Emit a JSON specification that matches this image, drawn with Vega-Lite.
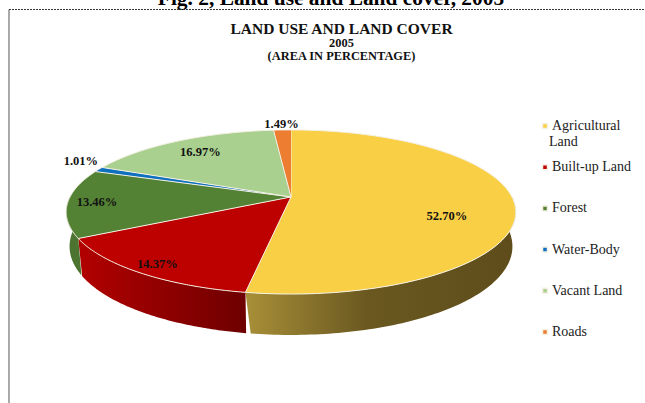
{
  "$schema": "https://vega.github.io/schema/vega-lite/v6.json",
  "width": 645,
  "height": 403,
  "padding": 0,
  "autosize": {"type": "none"},
  "background": "white",
  "view": {"stroke": null},
  "title": {
    "text": "LAND USE AND LAND COVER",
    "subtitle": ["2005", "(AREA IN PERCENTAGE)"],
    "anchor": "middle",
    "dx": 19,
    "dy": 78,
    "font": "Liberation Serif",
    "fontSize": 15.5,
    "fontWeight": "bold",
    "color": "#111111",
    "subtitleFont": "Liberation Serif",
    "subtitleFontSize": 12.4,
    "subtitleFontWeight": "bold",
    "subtitleColor": "#111111",
    "subtitleLineHeight": 13,
    "subtitlePadding": -1
  },
  "data": {
    "values": [
      {"slice": "Agricultural Land", "share": 52.70, "rank": 1},
      {"slice": "Built-up Land", "share": 14.37, "rank": 2},
      {"slice": "Forest", "share": 13.46, "rank": 3},
      {"slice": "Water-Body", "share": 1.01, "rank": 4},
      {"slice": "Vacant Land", "share": 16.97, "rank": 5},
      {"slice": "Roads", "share": 1.49, "rank": 6}
    ]
  },
  "layer": [
    {
      "transform": [
        {"window": [{"op": "sum", "field": "share", "as": "end"}], "sort": [{"field": "rank"}]},
        {"calculate": "datum.end - datum.share", "as": "start"}
      ],
      "layer": [
        {
          "transform": [
            {"filter": "datum.end > 25 && datum.start < 75"},
            {"calculate": "max(datum.start, 25)", "as": "lo"},
            {"calculate": "min(datum.end, 75)", "as": "hi"},
            {"calculate": "sequence(0, 2.001, 0.01)", "as": "step"},
            {"flatten": ["step"]},
            {"calculate": "datum.lo + (datum.step <= 1 ? datum.step : 2 - datum.step) * (datum.hi - datum.lo)", "as": "p"},
            {"calculate": "2 * PI * datum.p / 100", "as": "t"},
            {"calculate": "1 + 0.183 * cos(datum.t)", "as": "d"},
            {"calculate": "sin(datum.t) / datum.d * (datum.step <= 1 ? 1 : 0.985)", "as": "px"},
            {"calculate": "cos(datum.t) / datum.d - (datum.step <= 1 ? 0 : 0.416 - 0.1 * cos(datum.t))", "as": "py"}
          ],
          "layer": [
            {
              "transform": [{"filter": "datum.slice == 'Agricultural Land'"}],
              "mark": {"type": "line", "strokeWidth": 0, "fill": {"gradient": "linear", "x1": 0, "y1": 0, "x2": 1, "y2": 0, "stops": [{"offset": 0, "color": "#a88f38"}, {"offset": 0.45, "color": "#6a5820"}, {"offset": 1, "color": "#5e4d1b"}]}},
              "encoding": {
                "x": {"field": "px", "type": "quantitative", "axis": null, "scale": {"domain": [-1.3167, 1.6018], "nice": false, "zero": false}},
                "y": {"field": "py", "type": "quantitative", "axis": null, "scale": {"domain": [-2.598, 2.484], "nice": false, "zero": false}},
                "order": {"field": "step", "type": "quantitative"}
              }
            },
            {
              "transform": [{"filter": "datum.slice == 'Built-up Land'"}],
              "mark": {"type": "line", "strokeWidth": 0, "fill": {"gradient": "linear", "x1": 0, "y1": 0, "x2": 1, "y2": 0, "stops": [{"offset": 0, "color": "#b20000"}, {"offset": 1, "color": "#6e0000"}]}},
              "encoding": {
                "x": {"field": "px", "type": "quantitative", "axis": null},
                "y": {"field": "py", "type": "quantitative", "axis": null},
                "order": {"field": "step", "type": "quantitative"}
              }
            },
            {
              "transform": [{"filter": "datum.slice == 'Forest'"}],
              "mark": {"type": "line", "strokeWidth": 0, "fill": "#4c7330"},
              "encoding": {
                "x": {"field": "px", "type": "quantitative", "axis": null},
                "y": {"field": "py", "type": "quantitative", "axis": null},
                "order": {"field": "step", "type": "quantitative"}
              }
            }
          ]
        },
        {
          "transform": [
            {"calculate": "sequence(-0.01, 1.0001, 0.01)", "as": "step"},
            {"flatten": ["step"]},
            {"calculate": "datum.step < -0.005 ? 0 : 1", "as": "r"},
            {"calculate": "2 * PI * (datum.start + max(datum.step, 0) * datum.share) / 100", "as": "t"},
            {"calculate": "1 + 0.183 * datum.r * cos(datum.t)", "as": "d"},
            {"calculate": "datum.r * sin(datum.t) / datum.d", "as": "px"},
            {"calculate": "datum.r * cos(datum.t) / datum.d", "as": "py"}
          ],
          "mark": {"type": "line", "stroke": "#f4f1e4", "strokeWidth": 1, "strokeJoin": "round"},
          "encoding": {
            "x": {"field": "px", "type": "quantitative", "axis": null},
            "y": {"field": "py", "type": "quantitative", "axis": null},
            "order": {"field": "step", "type": "quantitative"},
            "fill": {
              "field": "slice",
              "type": "nominal",
              "sort": ["Agricultural Land", "Built-up Land", "Forest", "Water-Body", "Vacant Land", "Roads"],
              "scale": {
                "domain": ["Agricultural Land", "Built-up Land", "Forest", "Water-Body", "Vacant Land", "Roads"],
                "range": ["#f9cf45", "#bd0000", "#548235", "#0f70c0", "#a9d08e", "#ed7d31"]
              },
              "legend": {
                "orient": "none",
                "legendX": 538,
                "legendY": 119,
                "title": null,
                "symbolType": "square",
                "symbolSize": 25,
                "rowPadding": 27.2,
                "labelFont": "Liberation Serif",
                "labelFontSize": 14,
                "labelColor": "#222222",
                "labelOffset": 0,
                "labelExpr": "datum.label == 'Agricultural Land' ? '\u00a0Agricultural' : datum.label"
              }
            }
          }
        },
        {
          "transform": [
            {"calculate": "2 * PI * (datum.start + datum.share / 2) / 100", "as": "t"},
            {"calculate": "{'Agricultural Land': 0.7, 'Built-up Land': 0.9, 'Forest': 0.87, 'Water-Body': 1.1, 'Vacant Land': 0.78, 'Roads': 1.1}[datum.slice]", "as": "r"},
            {"calculate": "1 + 0.183 * datum.r * cos(datum.t)", "as": "d"},
            {"calculate": "datum.r * sin(datum.t) / datum.d", "as": "px"},
            {"calculate": "datum.r * cos(datum.t) / datum.d + (datum.slice == 'Agricultural Land' ? -0.18 : datum.slice == 'Water-Body' ? 0.075 : 0)", "as": "py"},
            {"calculate": "format(datum.share, '.2f') + '%'", "as": "label"}
          ],
          "mark": {"type": "text", "font": "Liberation Serif", "fontWeight": "bold", "fontSize": 12.5, "color": "#111111", "baseline": "middle"},
          "encoding": {
            "x": {"field": "px", "type": "quantitative", "axis": null},
            "y": {"field": "py", "type": "quantitative", "axis": null},
            "text": {"field": "label", "type": "nominal"}
          }
        }
      ]
    },
    {
      "data": {"values": [{"caption": "Land"}]},
      "mark": {"type": "text", "font": "Liberation Serif", "fontSize": 14, "color": "#222222", "align": "left", "baseline": "middle"},
      "encoding": {
        "x": {"datum": 1.167, "type": "quantitative"},
        "y": {"datum": 0.695, "type": "quantitative"},
        "text": {"field": "caption", "type": "nominal"}
      }
    },
    {
      "data": {"values": [{"caption": "Fig. 2, Land use and Land cover, 2005"}]},
      "mark": {"type": "text", "font": "Liberation Serif", "fontWeight": "bold", "fontSize": 21.4, "color": "#000000", "baseline": "alphabetic"},
      "encoding": {
        "x": {"datum": 0.181, "type": "quantitative"},
        "y": {"datum": 2.42, "type": "quantitative"},
        "text": {"field": "caption", "type": "nominal"}
      }
    },
    {
      "data": {"values": [{"frame": "top"}]},
      "mark": {"type": "rule", "color": "#333333", "strokeWidth": 1, "strokeDash": [2, 1]},
      "encoding": {
        "x": {"datum": -1.276, "type": "quantitative"},
        "x2": {"datum": 1.6018},
        "y": {"datum": 2.364, "type": "quantitative"}
      }
    },
    {
      "data": {"values": [{"frame": "left"}]},
      "mark": {"type": "rule", "color": "#555555", "strokeWidth": 1},
      "encoding": {
        "x": {"datum": -1.276, "type": "quantitative"},
        "y": {"datum": 2.364, "type": "quantitative"},
        "y2": {"datum": -2.598}
      }
    }
  ]
}
